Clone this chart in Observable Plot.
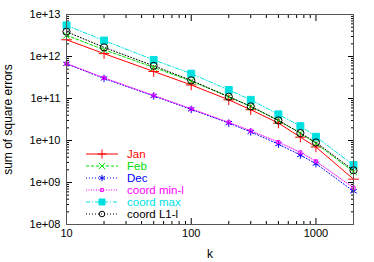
<!DOCTYPE html>
<html><head><meta charset="utf-8">
<script src="https://cdn.jsdelivr.net/npm/d3@7"></script>
<script src="https://cdn.jsdelivr.net/npm/@observablehq/plot@0.6"></script>
<style>body{margin:0;background:#fff}svg{font-family:"Liberation Sans",Arial,sans-serif}</style>
</head><body><div id="chart"></div>
<script>
const k = [10, 20, 50, 100, 200, 300, 500, 750, 1000, 2000];
const jan = [2.5e12, 1.17e12, 4.4e11, 2.1e11, 9.3e10, 5.4e10, 2.6e10, 1.2e10, 7e9, 1.2e9];
const feb = [3.2e12, 1.45e12, 5.5e11, 2.6e11, 1.1e11, 6.5e10, 3e10, 1.5e10, 8.5e9, 1.8e9];
const dec = [6.7e11, 3.0e11, 1.15e11, 5.5e10, 2.6e10, 1.6e10, 8.2e9, 4.5e9, 2.8e9, 6.2e8];
const minl = [6.8e11, 3.1e11, 1.18e11, 5.7e10, 2.7e10, 1.7e10, 9.2e9, 5.2e9, 3.2e9, 7.5e8];
const cmax = [5.5e12, 2.4e12, 8.3e11, 3.9e11, 1.6e11, 9.3e10, 4.2e10, 2.2e10, 1.23e10, 2.6e9];
const l1 = [3.9e12, 1.65e12, 6e11, 2.7e11, 1.1e11, 6.5e10, 3e10, 1.5e10, 9e9, 1.95e9];
const seriesNames = ["Jan", "Feb", "Dec", "coord min-l", "coord max", "coord L1-l"];
const xTicks = [10, 100, 1000];
const yTicks = [1e8, 1e9, 1e10, 1e11, 1e12, 1e13];

const styles = [
  {color: "#ff0000", dash: null, symbol: "plus", fill: "none", r: 3.5, lr: 3},
  {color: "#00e000", dash: "3,2", symbol: "times", fill: "none", r: 3.2, lr: 3},
  {color: "#0000ff", dash: "1,2", symbol: "asterisk", fill: "none", r: 3.5, lr: 3},
  {color: "#ff00ff", dash: "1,1.5", symbol: "square", fill: "none", r: 1.8, lr: 1.6},
  {color: "#00e0e0", dash: "4,2,1,2", symbol: "square", fill: "#00e0e0", r: 3.9, lr: 3.4},
  {color: "#000000", dash: "1,2", symbol: "circle", fill: "none", r: 3.6, lr: 2.8}
];
const values = [jan, feb, dec, minl, cmax, l1];
const data = values.flatMap((vs, i) => vs.map((v, j) => ({k: k[j], v, s: i})));

const minorX = d3.range(1, 4).flatMap(e => d3.range(2, 10).map(m => m * 10 ** e)).filter(v => v <= 2000);
const minorY = d3.range(8, 13).flatMap(e => d3.range(2, 10).map(m => m * 10 ** e));

const marks = [];
values.forEach((vs, i) => {
  const st = styles[i];
  const d = data.filter(r => r.s === i);
  marks.push(Plot.line(d, {x: "k", y: "v", stroke: st.color, strokeWidth: 1, strokeDasharray: st.dash}));
  marks.push(Plot.dot(d, {x: "k", y: "v", symbol: () => st.symbol, stroke: st.color, fill: st.fill, r: st.r, strokeWidth: 1}));
});

const fmtY = d => "1e+" + String(Math.round(Math.log10(d))).padStart(2, "0");
const chart = Plot.plot({
  width: 374, height: 262,
  marginLeft: 66, marginRight: 21, marginTop: 14, marginBottom: 38,
  style: {fontSize: "11px", fontFamily: "Liberation Sans, Arial, sans-serif", background: "white"},
  x: {type: "log", domain: [10, 2000]},
  y: {type: "log", domain: [1e8, 1e13]},
  marks: [
    Plot.axisX({ticks: xTicks, tickSize: 0, tickPadding: 5, tickFormat: d => String(d), fontSize: 11, label: null}),
    Plot.axisX({ticks: [], label: "k", labelAnchor: "center", labelArrow: "none", labelOffset: 33, fontSize: 12}),
    Plot.axisX({ticks: xTicks, tickSize: -6, fill: "none", label: null}),
    Plot.axisX({ticks: minorX, tickSize: -3, fill: "none", label: null}),
    Plot.axisX({anchor: "top", ticks: xTicks, tickSize: -6, fill: "none", label: null}),
    Plot.axisX({anchor: "top", ticks: minorX, tickSize: -3, fill: "none", label: null}),
    Plot.axisY({ticks: yTicks, tickSize: 0, tickPadding: 6, tickFormat: fmtY, fontSize: 11, label: null}),
    Plot.axisY({ticks: [], label: "sum of square errors", labelAnchor: "center", labelOffset: 63, labelArrow: "none", fontSize: 12}),
    Plot.axisY({ticks: yTicks, tickSize: -6, fill: "none", label: null}),
    Plot.axisY({ticks: minorY, tickSize: -3, fill: "none", label: null}),
    Plot.axisY({anchor: "right", ticks: yTicks, tickSize: -6, fill: "none", label: null}),
    Plot.axisY({anchor: "right", ticks: minorY, tickSize: -3, fill: "none", label: null}),
    ...marks,
    Plot.frame({stroke: "#555"})
  ]
});

// legend inside plot area, bottom-left
const symbols = {plus: d3.symbolPlus, times: d3.symbolTimes, asterisk: d3.symbolAsterisk, square: d3.symbolSquare, circle: d3.symbolCircle};
const g = d3.select(chart).append("g")
  .attr("font-family", "Liberation Sans, Arial, sans-serif").attr("font-size", 11.5).attr("text-anchor", "start");
const lx0 = 86, lx1 = 118, ltx = 127, ly0 = 154, lstep = 12;
seriesNames.forEach((name, i) => {
  const st = styles[i];
  const y = ly0 + i * lstep;
  g.append("line").attr("x1", lx0).attr("x2", lx1).attr("y1", y).attr("y2", y)
    .attr("stroke", st.color).attr("stroke-width", 1).attr("stroke-dasharray", st.dash);
  g.append("path").attr("transform", `translate(${(lx0 + lx1) / 2},${y})`)
    .attr("d", d3.symbol(symbols[st.symbol], Math.PI * st.lr * st.lr)())
    .attr("stroke", st.color).attr("fill", st.fill).attr("stroke-width", 1);
  g.append("text").attr("x", ltx).attr("y", y).attr("dy", "0.35em").attr("text-anchor", "start")
    .attr("fill", st.color).text(name);
});
document.getElementById("chart").appendChild(chart);
</script></body></html>
